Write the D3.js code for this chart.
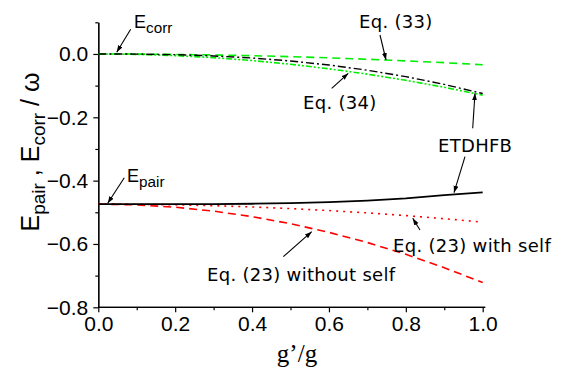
<!DOCTYPE html>
<html><head><meta charset="utf-8">
<script src="https://cdn.jsdelivr.net/npm/d3@7"></script>
<style>
body{margin:0;background:#fff;}
svg{display:block;}
</style></head>
<body>
<script>
// ---- data ----
const xs = [0, 0.1, 0.2, 0.3, 0.4, 0.5, 0.6, 0.7, 0.8, 0.9, 1.0];
const ecorrETDHFB = [0, -0.0004, -0.0022, -0.0062, -0.0127, -0.0221, -0.0349, -0.0513, -0.0716, -0.0961, -0.125];
const ecorrEq34   = [0, -0.0013, -0.0052, -0.0117, -0.0208, -0.0325, -0.0468, -0.0637, -0.0832, -0.1053, -0.130];
const ecorrEq33   = [0, -0.0003, -0.0014, -0.0031, -0.0054, -0.0085, -0.0122, -0.0167, -0.0218, -0.0275, -0.034];
const epairETDHFB = [-0.474, -0.474, -0.474, -0.474, -0.473, -0.471, -0.468, -0.463, -0.456, -0.446, -0.437];
const epairWithSelf    = [-0.474, -0.4746, -0.4763, -0.4791, -0.4831, -0.4883, -0.4945, -0.5019, -0.5105, -0.5202, -0.531];
const epairWithoutSelf = [-0.474, -0.4765, -0.4839, -0.4963, -0.5137, -0.536, -0.5633, -0.5955, -0.6327, -0.6749, -0.722];
const xTicks = [0, 0.2, 0.4, 0.6, 0.8, 1.0];
const xMinorTicks = [0.1, 0.3, 0.5, 0.7, 0.9];
const yTicks = [0.0, -0.2, -0.4, -0.6, -0.8];
const yMinorTicks = [0.1, -0.1, -0.3, -0.5, -0.7];

const W = 571, H = 370;
const sans = '"Liberation Sans",Arial,sans-serif';
const annFont = '"DejaVu Sans",sans-serif';
const svg = d3.select("body").append("svg").attr("width", W).attr("height", H);
const x = d3.scaleLinear().domain([0, 1]).range([98.3, 482.7]);
const y = d3.scaleLinear().domain([-0.8, 0.1]).range([307.3, 22.3]);

// arrow marker
svg.append("defs").append("marker")
  .attr("id", "ah").attr("viewBox", "0 0 10 10").attr("refX", 10).attr("refY", 5)
  .attr("markerWidth", 7).attr("markerHeight", 7).attr("markerUnits", "userSpaceOnUse")
  .attr("orient", "auto")
  .append("path").attr("d", "M0,1.5 L10,5 L0,8.5 Z").attr("fill", "#000");

// axes
const fmt = d3.format(".1f");
const minus = v => fmt(v).replace("-", "\u2212");
const gx = svg.append("g").attr("transform", `translate(0,${y(-0.8)})`);
gx.call(d3.axisBottom(x).tickValues(xTicks).tickFormat(minus).tickSize(5).tickSizeOuter(0).tickPadding(4));
gx.append("g").call(d3.axisBottom(x).tickValues(xMinorTicks).tickFormat("").tickSize(3).tickSizeOuter(0));
gx.selectAll(".domain").attr("d", `M${x(0)},0H${x(1)+2.5}`);
const gy = svg.append("g").attr("transform", `translate(${x(0)},0)`);
gy.call(d3.axisLeft(y).tickValues(yTicks).tickFormat(minus).tickSize(5).tickSizeOuter(0).tickPadding(5));
gy.append("g").call(d3.axisLeft(y).tickValues(yMinorTicks).tickFormat("").tickSize(3).tickSizeOuter(0));
svg.selectAll(".domain").attr("stroke", "#000").attr("stroke-width", 1.2);
svg.selectAll(".tick line").attr("stroke", "#000").attr("stroke-width", 1.2);
svg.selectAll(".tick text").style("font-size", "21px").style("font-family", sans).attr("fill", "#000");

// series
const line = d3.line().x((d, i) => x(xs[i])).y(d => y(d));
const series = [
  {v: epairWithoutSelf, c: "#ff0000", w: 1.6, dash: "8,5"},
  {v: epairWithSelf, c: "#ff0000", w: 1.6, dash: "2,5"},
  {v: epairETDHFB, c: "#000", w: 1.8, dash: null},
  {v: ecorrEq33, c: "#00ee00", w: 1.6, dash: "8,5"},
  {v: ecorrEq34, c: "#00ee00", w: 1.6, dash: "6,2,2,2,2,2"},
  {v: ecorrETDHFB, c: "#000", w: 1.4, dash: "8,3,2,3"}
];
series.forEach(s => {
  svg.append("path").attr("d", line(s.v)).attr("fill", "none")
    .attr("stroke", s.c).attr("stroke-width", s.w)
    .attr("stroke-dasharray", s.dash);
});

// annotations (arrows)
const arrows = [
  [130.7, 29.3, 116.7, 52.3],
  [124.3, 177.7, 107.7, 203.3],
  [380, 35, 386, 60],
  [331.7, 88.3, 348.3, 73.3],
  [472.7, 128.3, 475, 93.3],
  [465, 156.7, 454, 192.7],
  [283.3, 256.7, 311.7, 231.7],
  [420, 230, 412.7, 218.3]
];
arrows.forEach(a => svg.append("line").attr("x1", a[0]).attr("y1", a[1]).attr("x2", a[2]).attr("y2", a[3])
  .attr("stroke", "#000").attr("stroke-width", 1.1).attr("marker-end", "url(#ah)"));

const labels = [
  ["Eq. (33)", 359, 28],
  ["Eq. (34)", 303, 109],
  ["ETDHFB", 438, 152],
  ["Eq. (23) without self", 207, 281],
  ["Eq. (23) with self", 393, 252]
];
labels.forEach(l => svg.append("text").attr("x", l[1]).attr("y", l[2])
  .style("font-size", "18px").style("font-family", annFont).style("letter-spacing", "0.3px")
  .attr("fill", "#000").text(l[0]));

// E_corr and E_pair labels
function sublabel(txt, sub, px, py, fs) {
  const t = svg.append("text").attr("x", px).attr("y", py)
    .style("font-size", fs + "px").style("font-family", sans).attr("fill", "#000");
  t.append("tspan").text(txt);
  t.append("tspan").attr("dy", 5).style("font-size", (fs * 0.85) + "px").text(sub);
}
sublabel("E", "corr", 134, 28, 18);
sublabel("E", "pair", 127, 182, 18);

// axis titles
const yt = svg.append("text").attr("transform", "translate(39,152) rotate(-90)")
  .attr("text-anchor", "middle").style("font-size", "25px").style("font-family", sans).attr("fill", "#000");
yt.append("tspan").text("E");
yt.append("tspan").attr("dy", 6).style("font-size", "19px").text("pair");
yt.append("tspan").attr("dy", -6).text(" , E");
yt.append("tspan").attr("dy", 6).style("font-size", "19px").text("corr");
yt.append("tspan").attr("dy", -6).text(" / \u03c9");

svg.append("text").attr("x", 297).attr("y", 362).attr("text-anchor", "middle")
  .style("font-size", "25px").style("font-family", '"Liberation Serif","DejaVu Serif",serif').attr("fill", "#000")
  .text("g\u2019/g");
</script>
</body></html>
